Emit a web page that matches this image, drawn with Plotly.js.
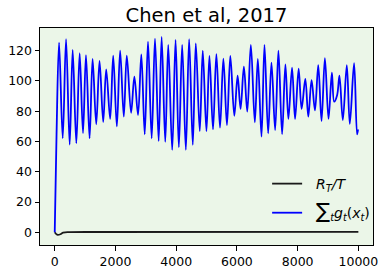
<!DOCTYPE html>
<html>
<head>
<meta charset="utf-8">
<script src="https://cdn.plot.ly/plotly-3.0.1.min.js"></script>
<style>html,body{margin:0;padding:0;background:#fff;}#chart{width:386px;height:272px;}</style>
</head>
<body>
<div id="chart"></div>
<script>
// Sum of g_t(x_t): extrema
var sumX = [0, 60, 143, 263, 373, 492, 591, 711, 821, 931, 1029, 1148, 1247, 1367, 1476, 1597, 1695, 1826, 1925, 2046, 2154, 2275, 2373, 2515, 2623, 2744, 2852, 2964, 3072, 3193, 3302, 3423, 3521, 3640, 3738, 3869, 3980, 4088, 4197, 4318, 4426, 4547, 4646, 4777, 4875, 4997, 5095, 5213, 5324, 5443, 5554, 5672, 5783, 5915, 6023, 6121, 6230, 6341, 6459, 6590, 6689, 6810, 6908, 7029, 7138, 7259, 7367, 7488, 7597, 7695, 7816, 7915, 8033, 8131, 8253, 8351, 8459, 8571, 8679, 8787, 8898, 9017, 9128, 9203, 9302, 9377, 9488, 9619, 9718, 9859, 9957, 9990];
var sumY = [0, 65, 125.3, 62.1, 127.7, 57.9, 120.5, 58.8, 118.3, 65.6, 117.1, 62.1, 114.5, 71.4, 113.2, 72.9, 107.7, 74.9, 116.7, 70.0, 120.0, 76.4, 116.7, 79.0, 102.8, 77.5, 117.6, 64.7, 126.0, 62.1, 127.9, 60.3, 129.2, 59.7, 123.8, 54.4, 127.1, 56.2, 123.8, 54.4, 127.7, 57.7, 124.9, 66.9, 120.0, 66.9, 116.5, 68.0, 117.8, 69.1, 114.7, 70.9, 116.5, 77.0, 103.5, 81.5, 109.4, 79.7, 123.8, 72.7, 114.5, 63.2, 123.8, 65.4, 112.1, 67.6, 120.0, 64.9, 111.0, 74.9, 108.8, 74.9, 108.1, 81.5, 101.3, 76.4, 100.6, 80.6, 110.5, 73.5, 115.0, 74.9, 105.5, 86.3, 90.8, 103.5, 74.2, 110.5, 71.6, 111.7, 64.7, 68.0];

// R_T / T
var regX = [0, 77, 187, 274, 500, 1500, 10000];
var regY = [0, -1.6, -1.3, -0.2, 0.1, 0.2, 0.3];

var xTicks = [0, 2000, 4000, 6000, 8000, 10000];
var yTicks = [0, 20, 40, 60, 80, 100, 120];

var font = 'DejaVu Sans, sans-serif';

var traces = [
  {x: regX, y: regY, type: 'scatter', mode: 'lines', name: '\u00a0\u00a0<i>R<sub>T</sub>/T</i>',
   legend: 'legend', line: {color: '#1a1a1a', width: 1.8, shape: 'spline'}},
  {x: sumX, y: sumY, type: 'scatter', mode: 'lines', legend: 'legend2',
   name: '\u00a0\u00a0<span style="font-size:21px">∑</span><sub><i>t</i></sub><i>g<sub>t</sub></i>(<i>x<sub>t</sub></i>)',
   line: {color: '#0000ff', width: 1.8, shape: 'spline', smoothing: 1}}
];

var legendBase = {xanchor: 'left', yanchor: 'middle', bgcolor: 'rgba(0,0,0,0)',
                  font: {family: font, size: 14, color: '#000'}};

var layout = {
  width: 386, height: 272,
  margin: {l: 39.5, r: 12, t: 28, b: 27},
  paper_bgcolor: '#ffffff',
  plot_bgcolor: '#ebf6e8',
  font: {family: font, color: '#000', size: 12},
  title: {text: 'Chen et al, 2017', font: {family: font, size: 19.5, color: '#000'},
          x: 0.5, xref: 'paper', y: 1 - 15/272, yref: 'container', yanchor: 'middle'},
  showlegend: true,
  legend: Object.assign({x: 0.68, y: 0.281}, legendBase),
  legend2: Object.assign({x: 0.68, y: 0.147}, legendBase),
  xaxis: {range: [-485, 10482], tickvals: xTicks, ticktext: xTicks.map(String),
          showgrid: false, zeroline: false, showline: true, mirror: true, linecolor: '#000', linewidth: 1,
          ticks: 'outside', ticklen: 4.5, tickwidth: 1, tickcolor: '#000', tickfont: {size: 12.5}},
  yaxis: {range: [-8.4, 135], tickvals: yTicks, ticktext: yTicks.map(String),
          showgrid: false, zeroline: false, showline: true, mirror: true, linecolor: '#000', linewidth: 1,
          ticks: 'outside', ticklen: 4.5, tickwidth: 1, tickcolor: '#000', tickfont: {size: 12.5}}
};

Plotly.newPlot('chart', traces, layout, {displayModeBar: false, staticPlot: true});
</script>
</body>
</html>
